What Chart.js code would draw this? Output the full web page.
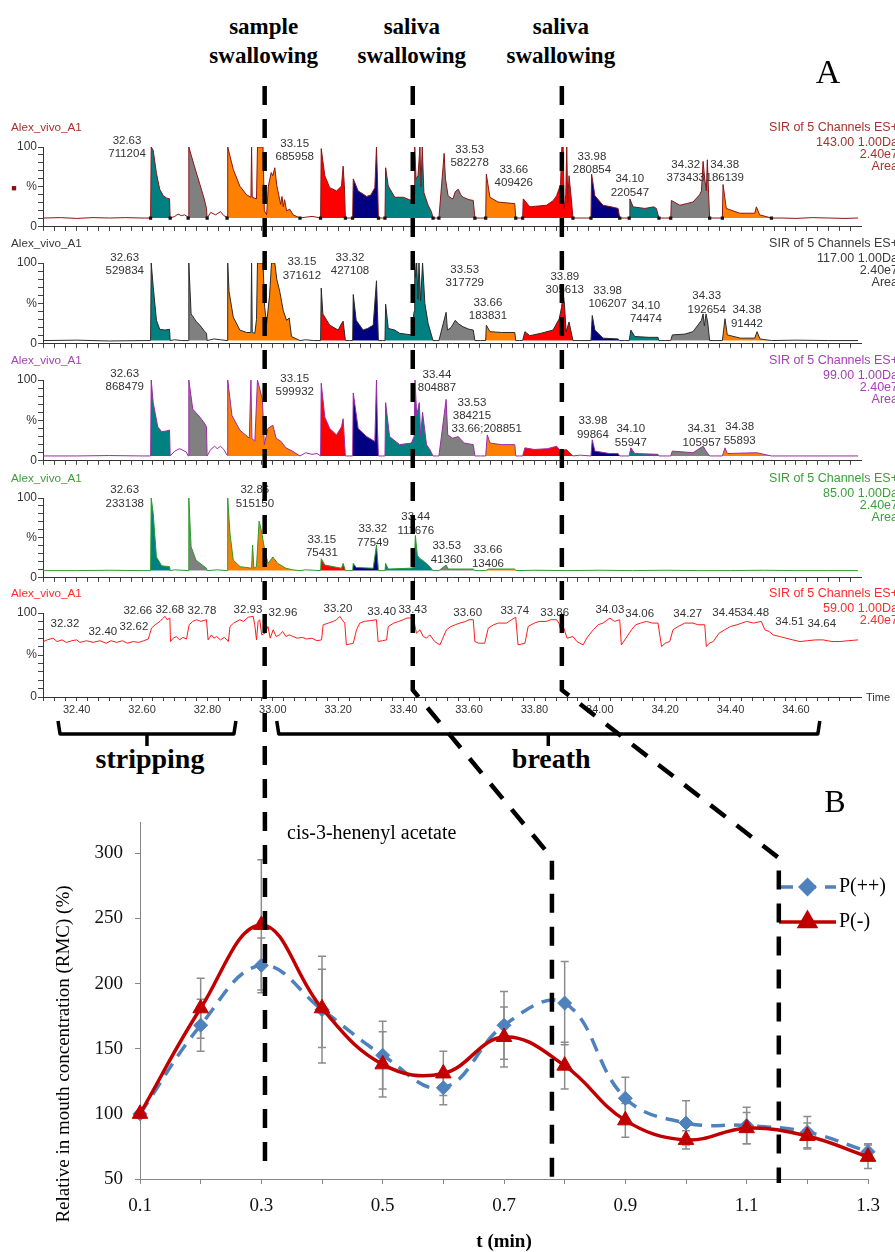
<!DOCTYPE html>
<html>
<head>
<meta charset="utf-8">
<script src="https://cdn.jsdelivr.net/npm/chart.js@4.4.1/dist/chart.umd.min.js"></script>
<style>
  body { margin: 0; width: 895px; height: 1252px; overflow: hidden; background: #fff; position: relative;
         font-family: "Liberation Sans", Arial, sans-serif; }
  canvas { position: absolute; left: 0; }
  .lbl { position: absolute; white-space: nowrap; line-height: 1; }
</style>
</head>
<body>
<canvas id="overlay" width="895" height="1252" style="top:0;z-index:10;pointer-events:none"></canvas>
<script>
  // ---------- A: SIR traces (time in min, intensity in %) ----------
  var timeTicks = [32.40, 32.60, 32.80, 33.00, 33.20, 33.40, 33.60, 33.80, 34.00, 34.20, 34.40, 34.60];

  // integrated peak windows, shared by the channels
  var segStart = [32.626, 32.741, 32.860, 33.146, 33.244, 33.343, 33.508, 33.651, 33.764, 33.973, 34.090, 34.217, 34.375];
  var segEnd   = [32.686, 32.799, 33.083, 33.222, 33.323, 33.490, 33.618, 33.743, 33.918, 34.061, 34.181, 34.336, 34.525];
  var baselines = [11, 4, 6, 9];

  var traceM143 = [[32.297,11],[32.35,11.5],[32.40,10.5],[32.45,11.5],[32.50,11],[32.55,11.5],[32.60,11],[32.626,11],
    [32.628,100],[32.634,96],[32.644,67],[32.654,47],[32.665,39],[32.675,36],[32.684,35],[32.686,11],
    [32.70,13],[32.71,16],[32.72,14],[32.73,15],[32.741,12],
    [32.743,100],[32.760,76],[32.777,53],[32.790,35],[32.797,23],[32.799,11],
    [32.81,18],[32.825,15],[32.84,19],[32.85,14],[32.860,12],
    [32.862,100],[32.879,72],[32.899,51],[32.920,40],[32.933,37],[32.935,100],[32.937,37],[32.950,35],[32.953,100],[32.970,100],[32.974,20],[32.981,15],[32.986,50],[32.995,68],[33.000,64],[33.006,74],[33.012,52],[33.018,40],[33.024,28],[33.028,38],[33.032,25],[33.036,34],[33.042,20],[33.052,22],[33.062,15],[33.083,11],
    [33.100,12],[33.120,13],[33.135,12],[33.146,11],
    [33.148,98],[33.159,64],[33.174,49],[33.195,45],[33.210,51],[33.215,76],[33.219,50],[33.222,11],
    [33.235,11],[33.244,11],
    [33.246,60],[33.261,45],[33.287,38],[33.300,40],[33.312,49],[33.317,100],[33.320,60],[33.323,11],
    [33.335,11],[33.343,11],
    [33.345,74],[33.353,51],[33.373,37],[33.399,37],[33.424,33],[33.432,40],[33.434,100],[33.438,60],[33.444,64],[33.450,100],[33.453,50],[33.457,100],[33.462,43],[33.475,27],[33.485,19],[33.490,11],
    [33.500,11],[33.508,11],
    [33.524,92],[33.528,60],[33.536,39],[33.545,36],[33.551,35],[33.558,44],[33.567,47],[33.575,40],[33.582,37],[33.600,34],[33.613,33],[33.618,11],
    [33.635,11],[33.651,11],
    [33.653,66],[33.664,37],[33.689,31],[33.715,30],[33.740,29],[33.743,11],
    [33.755,11],[33.764,11],
    [33.766,35],[33.786,25],[33.810,26],[33.837,27],[33.858,33],[33.868,39],[33.880,53],[33.884,100],[33.888,100],[33.891,23],[33.896,40],[33.899,100],[33.902,30],[33.906,64],[33.913,35],[33.918,11],
    [33.940,11],[33.960,11],[33.973,11],
    [33.975,66],[33.985,39],[34.010,27],[34.035,25],[34.056,23],[34.061,11],
    [34.075,11],[34.090,11],
    [34.092,35],[34.102,25],[34.138,23],[34.165,25],[34.173,23],[34.181,11],
    [34.200,11],[34.217,11],
    [34.219,33],[34.245,27],[34.265,29],[34.285,31],[34.305,40],[34.311,45],[34.316,82],[34.321,60],[34.326,45],[34.329,84],[34.333,40],[34.336,11],
    [34.355,11],[34.375,11],
    [34.377,53],[34.387,23],[34.428,17],[34.474,17],[34.479,25],[34.489,15],[34.525,11],
    [34.560,11],[34.600,10.5],[34.650,11.5],[34.700,11],[34.750,10.5],[34.790,11]];

  var traceM117 = [[32.297,4],[32.40,4.5],[32.50,3.5],[32.60,4],[32.626,4],
    [32.628,100],[32.634,71],[32.644,29],[32.654,18],[32.670,17],[32.684,18],[32.686,4],
    [32.700,5],[32.720,4],[32.741,4],
    [32.743,100],[32.750,37],[32.765,28],[32.777,23],[32.790,16],[32.797,13],[32.799,4],
    [32.820,6],[32.840,5],[32.860,4],
    [32.862,100],[32.866,65],[32.879,33],[32.899,17],[32.920,14],[32.933,14],[32.935,100],[32.937,14],[32.945,13],[32.950,30],[32.953,100],[32.970,100],[32.975,45],[32.981,25],[32.990,60],[32.996,100],[33.006,100],[33.012,80],[33.021,65],[33.032,41],[33.042,29],[33.050,32],[33.057,9],[33.083,4],
    [33.100,5],[33.125,4],[33.146,4],
    [33.148,69],[33.153,37],[33.174,23],[33.200,17],[33.210,25],[33.215,28],[33.222,4],
    [33.235,4],[33.244,4],
    [33.246,61],[33.255,29],[33.276,17],[33.290,19],[33.307,23],[33.317,78],[33.320,40],[33.323,4],
    [33.335,4],[33.343,4],
    [33.345,49],[33.353,19],[33.373,17],[33.388,13],[33.424,11],[33.432,40],[33.434,100],[33.437,82],[33.440,100],[33.444,55],[33.447,100],[33.452,53],[33.458,100],[33.465,50],[33.475,25],[33.490,4],
    [33.500,4],[33.508,4],
    [33.530,39],[33.534,17],[33.545,20],[33.558,29],[33.567,25],[33.582,21],[33.600,18],[33.613,17],[33.618,4],
    [33.635,4],[33.651,4],
    [33.653,23],[33.664,15],[33.700,14],[33.740,14],[33.743,4],
    [33.755,4],[33.764,4],
    [33.771,15],[33.786,10],[33.820,13],[33.857,17],[33.876,31],[33.883,45],[33.888,62],[33.892,49],[33.897,15],[33.906,27],[33.918,4],
    [33.940,4],[33.973,4],
    [33.977,35],[33.985,17],[34.010,7],[34.056,6],[34.061,4],
    [34.075,4],[34.090,4],
    [34.095,17],[34.107,9],[34.150,8],[34.178,8],[34.181,4],
    [34.200,4],[34.217,4],
    [34.222,11],[34.260,12],[34.285,15],[34.311,29],[34.316,37],[34.320,22],[34.325,37],[34.330,27],[34.336,4],
    [34.355,4],[34.375,4],
    [34.383,31],[34.390,11],[34.430,7],[34.474,7],[34.481,15],[34.490,6],[34.525,4],
    [34.600,4.5],[34.700,4],[34.790,4]];

  var traceM99 = [[32.297,6],[32.40,6],[32.50,6.5],[32.60,6],[32.626,6],
    [32.628,100],[32.634,72],[32.648,42],[32.660,36],[32.675,37],[32.684,38],[32.686,6],
    [32.700,12],[32.715,15],[32.725,13],[32.735,11],[32.741,6],
    [32.743,100],[32.755,64],[32.777,54],[32.790,47],[32.797,42],[32.799,6],
    [32.810,14],[32.822,18],[32.830,15],[32.840,18],[32.850,14],[32.860,7],
    [32.862,100],[32.875,56],[32.899,38],[32.928,28],[32.933,100],[32.936,28],[32.945,24],[32.953,100],[32.968,76],[32.974,20],[32.985,40],[33.000,44],[33.010,28],[33.025,24],[33.040,16],[33.060,12],[33.083,6],
    [33.100,10],[33.120,8],[33.135,9],[33.146,6],
    [33.148,96],[33.159,54],[33.174,40],[33.195,32],[33.210,42],[33.215,52],[33.222,6],
    [33.235,6],[33.244,6],
    [33.246,84],[33.261,40],[33.287,30],[33.312,24],[33.317,100],[33.320,40],[33.323,6],
    [33.335,6],[33.343,6],
    [33.345,72],[33.357,30],[33.388,20],[33.424,22],[33.432,30],[33.435,100],[33.440,56],[33.448,72],[33.452,30],[33.458,60],[33.470,20],[33.480,14],[33.490,6],
    [33.500,6],[33.508,6],
    [33.530,76],[33.535,32],[33.550,28],[33.567,30],[33.585,22],[33.613,20],[33.618,6],
    [33.635,6],[33.651,6],
    [33.656,32],[33.664,22],[33.700,20],[33.740,20],[33.743,6],
    [33.755,6],[33.764,6],
    [33.771,16],[33.800,14],[33.840,15],[33.868,18],[33.880,12],[33.898,14],[33.918,6],
    [33.940,7],[33.973,6],
    [33.977,26],[33.985,12],[34.030,9],[34.056,9],[34.061,6],
    [34.075,6],[34.090,6],
    [34.095,16],[34.107,9],[34.178,8],[34.181,6],
    [34.200,6],[34.217,6],
    [34.222,12],[34.285,10],[34.316,18],[34.325,12],[34.336,6],
    [34.355,6],[34.375,6],
    [34.383,16],[34.390,9],[34.480,10],[34.525,6],
    [34.600,6],[34.700,6],[34.790,6]];

  var traceM85 = [[32.297,9],[32.40,9],[32.50,9.5],[32.60,9],[32.626,9],
    [32.628,100],[32.634,81],[32.644,26],[32.660,15],[32.684,14],[32.686,9],
    [32.700,10],[32.741,9],
    [32.743,100],[32.750,39],[32.765,22],[32.797,12],[32.799,9],
    [32.830,10],[32.860,9],
    [32.862,100],[32.869,55],[32.879,22],[32.900,14],[32.935,12],[32.938,41],[32.942,12],[32.950,14],[32.958,71],[32.965,59],[32.975,35],[32.985,18],[33.000,26],[33.015,18],[33.040,12],[33.060,10],[33.083,9],
    [33.100,10],[33.146,9],
    [33.148,24],[33.159,16],[33.210,12],[33.215,18],[33.222,9],
    [33.244,9],
    [33.246,18],[33.255,13],[33.307,12],[33.317,41],[33.323,9],
    [33.343,9],
    [33.345,18],[33.353,11],[33.420,12],[33.432,13],[33.436,53],[33.442,28],[33.450,24],[33.458,22],[33.475,16],[33.490,9],
    [33.508,9],
    [33.530,16],[33.536,11],[33.613,11],[33.618,9],
    [33.651,9],
    [33.660,11],[33.740,11],[33.743,9],
    [33.800,9.5],[33.900,9],[34.000,9.5],[34.100,9],[34.200,9.5],[34.300,9],[34.400,9],[34.500,9.5],[34.600,9],[34.700,9],[34.790,9]];

  var traceM59 = [[32.298,66],[32.31,68],[32.328,70],[32.34,66],[32.355,68],[32.369,65],[32.385,67],[32.40,68],[32.41,65],[32.43,67],[32.45,65],[32.471,67],[32.49,64],[32.505,67],[32.522,65],[32.54,67],[32.555,64],[32.573,66],[32.59,65],[32.605,67],[32.619,69],
    [32.629,82],[32.64,86],[32.655,90],[32.662,93],[32.670,96],[32.677,92],[32.685,94],[32.687,66],[32.695,70],[32.705,72],[32.715,68],[32.725,71],[32.736,69],
    [32.744,86],[32.755,90],[32.767,92],[32.78,90],[32.797,92],[32.802,68],[32.812,74],[32.82,70],[32.828,72],[32.84,68],[32.852,71],[32.864,66],
    [32.869,84],[32.88,88],[32.899,92],[32.91,90],[32.925,95],[32.940,96],[32.945,85],[32.950,68],[32.955,90],[32.960,92],[32.966,74],[32.976,76],[32.985,84],[32.992,70],[33.001,80],[33.01,72],[33.021,74],[33.03,78],[33.04,72],[33.05,74],[33.062,72],[33.075,70],[33.09,71],[33.103,69],[33.12,70],[33.135,67],[33.149,68],
    [33.154,86],[33.17,88],[33.185,90],[33.195,92],[33.205,96],[33.212,92],[33.220,88],[33.225,62],[33.235,63],[33.246,64],
    [33.256,80],[33.266,88],[33.28,90],[33.30,91],[33.317,92],[33.322,66],[33.335,67],[33.348,68],
    [33.353,84],[33.37,88],[33.385,90],[33.399,92],[33.41,94],[33.424,94],[33.432,90],[33.439,76],[33.45,80],[33.46,72],[33.470,70],[33.48,74],[33.495,66],[33.511,62],
    [33.52,70],[33.531,80],[33.545,84],[33.558,86],[33.572,88],[33.59,90],[33.60,92],[33.613,92],[33.618,66],[33.630,64],[33.648,64],
    [33.659,82],[33.675,86],[33.69,88],[33.715,88],[33.73,92],[33.743,95],[33.750,62],[33.76,63],[33.771,64],
    [33.781,84],[33.80,88],[33.815,90],[33.837,90],[33.85,92],[33.868,92],[33.875,88],[33.883,76],[33.89,82],[33.90,70],[33.918,72],[33.93,66],[33.949,62],
    [33.96,70],[33.980,80],[33.995,86],[34.01,88],[34.031,94],[34.045,90],[34.061,92],[34.066,62],
    [34.08,70],[34.097,80],[34.11,86],[34.125,88],[34.143,90],[34.16,88],[34.178,88],[34.189,60],[34.20,64],[34.214,66],
    [34.224,80],[34.24,84],[34.26,88],[34.285,88],[34.30,86],[34.321,86],[34.326,60],[34.335,64],[34.347,66],
    [34.365,76],[34.382,80],[34.40,84],[34.42,86],[34.449,90],[34.47,88],[34.494,90],[34.505,80],[34.518,78],[34.530,74],[34.55,72],[34.57,70],[34.59,68],[34.612,66],[34.635,67],[34.66,68],[34.683,68],[34.71,66],[34.734,66],[34.76,67],[34.790,68]];

  // peak annotations: [time, intensity of first text line, text]
  var peaksM143 = [[32.554,108,'32.63\n711204'],[33.067,104,'33.15\n685958'],[33.602,97,'33.53\n582278'],[33.737,72,'33.66\n409426'],
    [33.976,88,'33.98\n280854'],[34.092,60,'34.10\n220547'],[34.263,78,'34.32\n373433'],[34.382,78,'34.38\n186139']];
  var peaksM117 = [[32.547,107,'32.63\n529834'],[33.089,101,'33.15\n371612'],[33.236,107,'33.32\n427108'],[33.587,92,'33.53\n317729'],
    [33.658,51,'33.66\n183831'],[33.893,83,'33.89\n305613'],[34.024,66,'33.98\n106207'],[34.141,47,'34.10\n74474'],
    [34.327,59,'34.33\n192654'],[34.450,42,'34.38\n91442']];
  var peaksM99 = [[32.547,108,'32.63\n868479'],[33.067,102,'33.15\n599932'],[33.502,107,'33.44\n804887'],[33.609,72,'33.53\n384215'],
    [33.654,40,'33.66;208851'],[33.979,49,'33.98\n99864'],[34.095,39,'34.10\n55947'],[34.312,39,'34.31\n105957'],[34.428,42,'34.38\n55893']];
  var peaksM85 = [[32.547,110,'32.63\n233138'],[32.945,110,'32.86\n515150'],[33.150,48,'33.15\n75431'],[33.306,61,'33.32\n77549'],
    [33.437,76,'33.44\n111676'],[33.532,40,'33.53\n41360'],[33.658,35,'33.66\n13406']];
  var peaksM59 = [[32.364,87,'32.32'],[32.480,77,'32.40'],[32.575,83,'32.62'],[32.587,102,'32.66'],[32.685,104,'32.68'],
    [32.783,102,'32.78'],[32.924,104,'32.93'],[33.031,100,'32.96'],[33.199,105,'33.20'],[33.333,101,'33.40'],[33.428,104,'33.43'],
    [33.596,100,'33.60'],[33.740,102,'33.74'],[33.862,100,'33.86'],[34.031,104,'34.03'],[34.122,99,'34.06'],[34.269,99,'34.27'],
    [34.388,100,'34.45'],[34.474,100,'34.48'],[34.581,90,'34.51'],[34.679,87,'34.64']];

  var channelMass = ['143.00', '117.00', '99.00', '85.00', '59.00'];

  // events marked by the dashed lines, in A time and in B time
  var swallowNames = [['sample', 'swallowing'], ['saliva', 'swallowing'], ['saliva', 'swallowing']];
  var swallowTime = [32.975, 33.428, 33.884];
  var swallowB = [0.306, 0.779, 1.153];
  var phaseNames = ['stripping', 'breath'];
  var phaseFrom = [32.343, 33.012];
  var phaseTo = [32.887, 34.673];

  // ---------- B: relative in mouth concentration ----------
  var times = [0.1, 0.2, 0.3, 0.4, 0.5, 0.6, 0.7, 0.8, 0.9, 1.0, 1.1, 1.2, 1.3];
  var rmcPlus = [100, 168, 214, 180, 145, 120, 168, 185, 112, 93, 91, 86, 71];
  var rmcPlusErr = [0, 20, 21, 41, 26, 13, 26, 32, 16, 17, 14, 12, 6];
  var rmcMinus = [100, 181, 245, 181, 138, 131, 159, 137, 95, 80, 89, 83, 67];
  var rmcMinusErr = [0, 23, 50, 30, 25, 17, 23, 18, 13, 7, 12, 10, 9];
  var rmcTicks = [50, 100, 150, 200, 250, 300];
  var timeLabelsB = [0.1, 0.3, 0.5, 0.7, 0.9, 1.1, 1.3];

  // ---------- styles / layout ----------
  var segColors = ['#008080', '#808080', '#ff8000', '#ff0000', '#000080'];
  var panelTop = [147, 263, 380, 498, 613];   // pixel row of 100 %
  var panelBottom = [229, 346, 463, 580, 697]; // pixel row of 0 %
  var lineColors = ['#8b1515', '#2b2b2b', '#9b2ba5', '#2a9a2a', '#ff1a1a'];
  var textColors = ['#a8322d', '#3a3a3a', '#a640b8', '#3a9f3a', '#ff2a2a'];
  var SERIF = '"Liberation Serif", "Times New Roman", serif';

  Chart.defaults.font.family = '"Liberation Sans", Arial, sans-serif';

  function addText(txt, x, y, css, anchor) {
    var d = document.createElement('div');
    d.className = 'lbl';
    d.textContent = txt;
    var tx = anchor === 'l' ? '0' : anchor === 'r' ? '-100%' : '-50%';
    d.style.left = x + 'px';
    d.style.top = y + 'px';
    d.style.transform = 'translate(' + tx + ',-50%)';
    Object.assign(d.style, css || {});
    document.body.appendChild(d);
    return d;
  }

  function peakLabels(items) {
    return {
      id: 'peakLabels',
      afterDatasetsDraw: function (chart) {
        var ctx = chart.ctx, x = chart.scales.x, y = chart.scales.y;
        ctx.save();
        ctx.font = '11.5px "Liberation Sans", Arial, sans-serif';
        ctx.fillStyle = '#333';
        ctx.textAlign = 'center';
        ctx.textBaseline = 'middle';
        items.forEach(function (p) {
          var px = x.getPixelForValue(p[0]), py = y.getPixelForValue(p[1]);
          p[2].split('\n').forEach(function (s, k) { ctx.fillText(s, px, py + k * 13.5); });
        });
        ctx.restore();
      }
    };
  }

  var traces = [traceM143, traceM117, traceM99, traceM85, traceM59];
  var peaks = [peaksM143, peaksM117, peaksM99, peaksM85, peaksM59];
  var chartsA = [];

  traces.forEach(function (trace, p) {
    var last = p === traces.length - 1;
    var padTop = 40, axisH = last ? 22 : 6;
    var cv = document.createElement('canvas');
    cv.width = 895;
    cv.height = padTop + (panelBottom[p] - panelTop[p]) + axisH;
    cv.style.top = (panelTop[p] - padTop) + 'px';
    document.body.appendChild(cv);

    var pts = trace.map(function (d) { return {x: d[0], y: d[1]}; });
    var datasets = [];
    if (p < baselines.length) {
      segStart.forEach(function (t0, i) {
        datasets.push({
          data: pts.filter(function (q) { return q.x >= t0 && q.x <= segEnd[i]; }),
          borderWidth: 0, pointRadius: 0, backgroundColor: segColors[i % segColors.length],
          fill: {value: baselines[p]}, order: 2
        });
      });
    }
    if (p === 0) {
      var marks = [];
      segStart.forEach(function (t0, i) {
        marks.push({x: t0, y: baselines[p]});
        marks.push({x: segEnd[i], y: baselines[p]});
      });
      datasets.push({data: marks, showLine: false, pointStyle: 'rect', pointRadius: 2.3,
        backgroundColor: '#111', borderColor: '#111', borderWidth: 0, order: 0});
    }
    datasets.push({data: pts, borderColor: lineColors[p], borderWidth: 1, pointRadius: 0, fill: false, order: 1});

    var ch = new Chart(cv, {
      type: 'line',
      data: {datasets: datasets},
      options: {
        responsive: false, animation: false, devicePixelRatio: 1,
        layout: {padding: {top: padTop, right: 34, left: 0, bottom: 0}},
        elements: {line: {tension: 0}},
        plugins: {legend: {display: false}, tooltip: {enabled: false}},
        scales: {
          x: {
            type: 'linear', min: 32.297, max: 34.799,
            afterBuildTicks: function (s) {
              var ticks = [];
              for (var k = Math.ceil(s.min * 30); k <= Math.floor(s.max * 30); k++) ticks.push({value: k / 30});
              s.ticks = ticks;
            },
            afterFit: function (s) { s.height = axisH; },
            ticks: {
              display: last, autoSkip: false, maxRotation: 0, padding: 2, color: '#333', font: {size: 11},
              callback: function (v) {
                return timeTicks.some(function (t) { return Math.abs(t - v) < 1e-6; }) ? v.toFixed(2) : '';
              }
            },
            grid: {drawOnChartArea: false, tickLength: 4, color: '#444'},
            border: {color: '#333', width: 1}
          },
          y: {
            min: 0, max: 100,
            afterBuildTicks: function (s) {
              var ticks = [];
              for (var v = 0; v <= 100; v += 10) ticks.push({value: v});
              s.ticks = ticks;
            },
            afterFit: function (s) { s.width = 43; },
            ticks: {
              autoSkip: false, padding: 1, color: '#333', font: {size: 12},
              callback: function (v) { return v === 100 ? '100' : v === 50 ? '%' : v === 0 ? '0' : ''; }
            },
            grid: {drawOnChartArea: false, tickLength: 5, color: '#444'},
            border: {color: '#333', width: 1}
          }
        }
      },
      plugins: [peakLabels(peaks[p])]
    });
    chartsA.push(ch);

    // channel header texts
    var tc = textColors[p];
    addText('Alex_vivo_A1', 11, panelTop[p] - 20, {color: tc, fontSize: '11.7px'}, 'l');
    var info = ['SIR of 5 Channels ES+', channelMass[p] + ' 1.00Da', '2.40e7'];
    if (p < baselines.length) info.push('Area');
    var dy = [0, 14.5, 26.5, 38.5];
    info.forEach(function (s, k) {
      addText(s, 898, panelTop[p] - 20 + dy[k], {color: tc, fontSize: '12.5px'}, 'r');
    });
  });
  addText('\u25A0', 14, 188, {color: '#8b1010', fontSize: '9px'}, 'c');
  addText('Time', 866, 697, {color: '#333', fontSize: '11px'}, 'l');

  // ---------- B chart ----------
  var cvB = document.createElement('canvas');
  cvB.width = 895; cvB.height = 462; cvB.style.top = '790px';
  document.body.appendChild(cvB);

  var errorBars = {
    id: 'errorBars',
    beforeDatasetsDraw: function (chart) {
      var ctx = chart.ctx, x = chart.scales.x, y = chart.scales.y;
      ctx.save();
      ctx.strokeStyle = '#8c8c8c';
      ctx.lineWidth = 1.5;
      [[rmcPlus, rmcPlusErr], [rmcMinus, rmcMinusErr]].forEach(function (s) {
        times.forEach(function (t, i) {
          if (!s[1][i]) return;
          var px = x.getPixelForValue(t);
          var top = y.getPixelForValue(s[0][i] + s[1][i]), bot = y.getPixelForValue(s[0][i] - s[1][i]);
          ctx.beginPath();
          ctx.moveTo(px, top); ctx.lineTo(px, bot);
          ctx.moveTo(px - 4, top); ctx.lineTo(px + 4, top);
          ctx.moveTo(px - 4, bot); ctx.lineTo(px + 4, bot);
          ctx.stroke();
        });
      });
      ctx.restore();
    }
  };

  var legendB = {
    id: 'legendB',
    afterDraw: function (chart) {
      var ctx = chart.ctx;
      chart.data.datasets.forEach(function (d, i) {
        var y = 97 + i * 35, x0 = 779, x1 = 836;
        ctx.save();
        ctx.strokeStyle = d.borderColor;
        ctx.lineWidth = d.borderWidth;
        ctx.setLineDash(d.borderDash || []);
        ctx.beginPath(); ctx.moveTo(x0, y); ctx.lineTo(x1, y); ctx.stroke();
        ctx.setLineDash([]);
        ctx.fillStyle = d.backgroundColor;
        ctx.strokeStyle = d.borderColor;
        Chart.helpers.drawPoint(ctx, {pointStyle: d.pointStyle, radius: d.pointRadius, rotation: 0, borderWidth: 1},
          (x0 + x1) / 2, y);
        ctx.fillStyle = '#000';
        ctx.font = '20px ' + SERIF;
        ctx.textBaseline = 'middle';
        ctx.fillText(d.label, x1 + 3, y);
        ctx.restore();
      });
    }
  };

  var chartB = new Chart(cvB, {
    type: 'line',
    data: {
      datasets: [{
        label: 'P(++)',
        data: times.map(function (t, i) { return {x: t, y: rmcPlus[i]}; }),
        borderColor: '#4f81bd', backgroundColor: '#4f81bd', borderWidth: 3.5, borderDash: [14, 9],
        tension: 0.4, pointStyle: 'rectRot', pointRadius: 7, pointBorderWidth: 1, order: 1, clip: false
      }, {
        label: 'P(-)',
        data: times.map(function (t, i) { return {x: t, y: rmcMinus[i]}; }),
        borderColor: '#c00000', backgroundColor: '#c00000', borderWidth: 3.5,
        tension: 0.4, pointStyle: 'triangle', pointRadius: 9, pointBorderWidth: 1, order: 0, clip: false
      }]
    },
    options: {
      responsive: false, animation: false, devicePixelRatio: 1,
      layout: {padding: {top: 32, right: 27, left: 0, bottom: 0}},
      plugins: {legend: {display: false}, tooltip: {enabled: false}},
      scales: {
        x: {
          type: 'linear', min: 0.1, max: 1.3,
          afterBuildTicks: function (s) { s.ticks = times.map(function (t) { return {value: t}; }); },
          afterFit: function (s) { s.height = 73; },
          ticks: {
            autoSkip: false, maxRotation: 0, padding: 11, color: '#111', font: {family: SERIF, size: 19},
            callback: function (v) {
              return timeLabelsB.some(function (t) { return Math.abs(t - v) < 1e-6; }) ? v.toFixed(1) : '';
            }
          },
          grid: {drawOnChartArea: false, tickLength: 5, color: '#868686'},
          border: {color: '#868686', width: 1},
          title: {display: true, text: 't (min)', color: '#000', padding: {top: 0, bottom: 0},
            font: {family: SERIF, size: 19, weight: 'bold', lineHeight: 1}}
        },
        y: {
          min: 50, max: 324,
          afterBuildTicks: function (s) { s.ticks = rmcTicks.map(function (v) { return {value: v}; }); },
          afterFit: function (s) { s.width = 140; },
          ticks: {autoSkip: false, padding: 12, color: '#111', font: {family: SERIF, size: 19}},
          grid: {drawOnChartArea: false, tickLength: 5, color: '#868686'},
          border: {color: '#868686', width: 1}
        }
      }
    },
    plugins: [errorBars, legendB]
  });

  // ---------- annotations ----------
  var xA = function (t) { return chartsA[chartsA.length - 1].scales.x.getPixelForValue(t); };
  var xB = function (v) { return chartB.scales.x.getPixelForValue(v); };

  swallowTime.forEach(function (t, i) {
    addText(swallowNames[i][0], xA(t) - 1, 26, {fontSize: '23px', fontWeight: 'bold', fontFamily: SERIF}, 'c');
    addText(swallowNames[i][1], xA(t) - 1, 55, {fontSize: '23px', fontWeight: 'bold', fontFamily: SERIF}, 'c');
  });
  addText('A', 828, 72, {fontSize: '34px', fontFamily: SERIF}, 'c');
  addText('B', 835, 801, {fontSize: '32px', fontFamily: SERIF}, 'c');
  addText('cis-3-henenyl acetate', 287, 832, {fontSize: '20px', fontFamily: SERIF}, 'l');
  addText('Relative in mouth concentration (RMC) (%)', 62, 1054,
    {fontSize: '19px', fontFamily: SERIF, transform: 'translate(-50%,-50%) rotate(-90deg)'}, 'c');

  var ov = document.getElementById('overlay');
  var octx = ov.getContext('2d');
  var lineEnds = [1175, 1186, 1183];
  octx.strokeStyle = '#000';
  octx.lineWidth = 4.5;
  octx.setLineDash([19, 14]);
  swallowTime.forEach(function (t, i) {
    octx.beginPath();
    octx.moveTo(xA(t), 86);
    octx.lineTo(xA(t), 690);
    octx.lineTo(xB(swallowB[i]), 858);
    octx.lineTo(xB(swallowB[i]), lineEnds[i]);
    octx.stroke();
  });

  octx.setLineDash([]);
  octx.lineWidth = 3.5;
  octx.lineJoin = 'round';
  phaseFrom.forEach(function (t0, i) {
    var a = xA(t0), b = xA(phaseTo[i]), c = (a + b) / 2;
    octx.beginPath();
    octx.moveTo(a, 721); octx.lineTo(a + 2, 734); octx.lineTo(b - 2, 734); octx.lineTo(b, 721);
    octx.moveTo(c, 734); octx.lineTo(c, 746);
    octx.stroke();
    addText(phaseNames[i], c + 3, 759, {fontSize: '28px', fontWeight: 'bold', fontFamily: SERIF}, 'c');
  });
</script>
</body>
</html>
